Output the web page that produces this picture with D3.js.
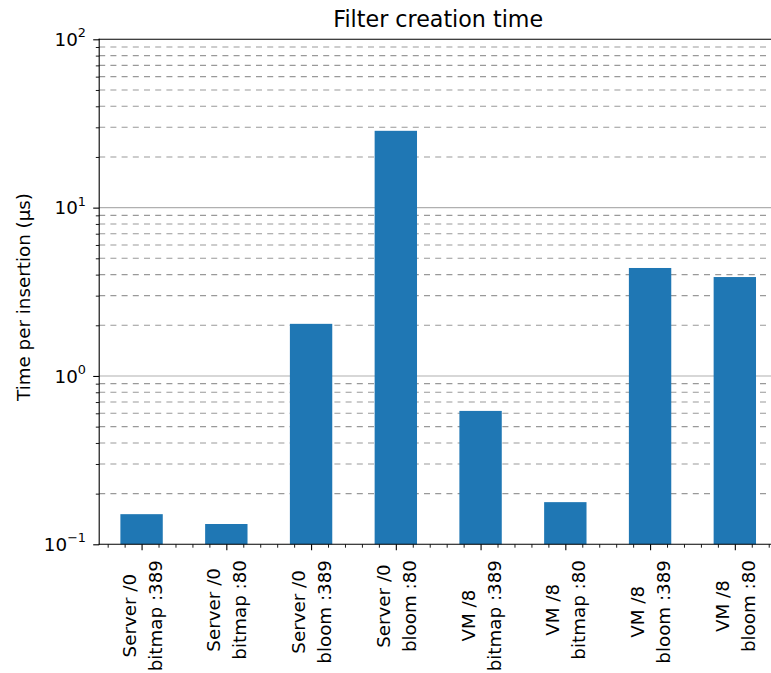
<!DOCTYPE html>
<html>
<head>
<meta charset="utf-8">
<script src="https://cdn.jsdelivr.net/npm/d3@7"></script>
<style>
  html, body { margin: 0; padding: 0; background: #ffffff; }
  svg { display: block; font-family: "DejaVu Sans", sans-serif; }
</style>
</head>
<body>
<svg id="chart" width="771" height="673"></svg>
<script>
// Filter creation time per configuration (µs per insertion)
const hosts   = ["Server /0", "Server /0", "Server /0", "Server /0", "VM /8", "VM /8", "VM /8", "VM /8"];
const filters = ["bitmap :389", "bitmap :80", "bloom :389", "bloom :80", "bitmap :389", "bitmap :80", "bloom :389", "bloom :80"];
const times   = [0.151, 0.132, 2.04, 28.6, 0.62, 0.178, 4.38, 3.87];
const yTickValues = [0.1, 1, 10, 100];
const yTickExponents = ["\u22121", "0", "1", "2"];

const svg = d3.select("#chart");
const plotLeft = 99.2, plotRight = 777.2, plotTop = 39.3, plotBottom = 544.3;
const tickFont = 18.3;

const x = d3.scaleLinear().domain([-0.5, hosts.length - 0.5]).range([plotLeft, plotRight]);
const y = d3.scaleLog().domain([0.1, 100]).range([plotBottom, plotTop]);

// minor gridlines (2..9 of every decade), dashed
const minorVals = [];
for (let e = -1; e < 2; e++) for (let m = 2; m <= 9; m++) minorVals.push(m * Math.pow(10, e));

svg.append("g").selectAll("line").data(minorVals).join("line")
  .attr("x1", plotLeft).attr("x2", plotRight)
  .attr("y1", d => y(d)).attr("y2", d => y(d))
  .attr("stroke", "#999999").attr("stroke-width", 1.1)
  .attr("stroke-dasharray", "6,5.2");

// major gridlines, solid
svg.append("g").selectAll("line").data(yTickValues.slice(1, 3)).join("line")
  .attr("x1", plotLeft).attr("x2", plotRight)
  .attr("y1", d => y(d)).attr("y2", d => y(d))
  .attr("stroke", "#b0b0b0").attr("stroke-width", 1.1);

// bars
const barW = x(0.25) - x(-0.25);
svg.append("g").selectAll("rect").data(times).join("rect")
  .attr("x", (d, i) => x(i) - barW / 2)
  .attr("width", barW)
  .attr("y", d => y(d))
  .attr("height", d => plotBottom - y(d))
  .attr("fill", "#1f77b4");

// y axis with log ticks
const yAxis = d3.axisLeft(y).tickValues(yTickValues).tickSize(6).tickFormat(() => "");
const gy = svg.append("g").attr("transform", `translate(${plotLeft},0)`).call(yAxis);
gy.select(".domain").remove();
gy.selectAll(".tick line").attr("stroke", "#000").attr("stroke-width", 1.1);

const yMinor = d3.axisLeft(y).tickValues(minorVals).tickSize(3.4).tickFormat(() => "");
const gym = svg.append("g").attr("transform", `translate(${plotLeft},0)`).call(yMinor);
gym.select(".domain").remove();
gym.selectAll(".tick line").attr("stroke", "#000").attr("stroke-width", 0.9);

// y tick labels as 10 with superscript exponent
const yl = svg.append("g");
yTickValues.forEach((v, i) => {
  const t = yl.append("text")
    .attr("x", 86).attr("y", y(v) + 6.6)
    .attr("text-anchor", "end")
    .attr("font-size", tickFont).attr("fill", "#000");
  t.append("tspan").text("10");
  t.append("tspan").attr("font-size", 12.8).attr("dy", -8.5).text(yTickExponents[i]);
});

// x axis: major ticks at bar centres, minor ticks every fifth
const idx = d3.range(hosts.length);
const xAxis = d3.axisBottom(x).tickValues(idx).tickSize(6).tickFormat(() => "");
const gx = svg.append("g").attr("transform", `translate(0,${plotBottom})`).call(xAxis);
gx.select(".domain").remove();
gx.selectAll(".tick line").attr("stroke", "#000").attr("stroke-width", 1.1);

const xMinorVals = d3.range(-2, hosts.length * 5 - 2).map(k => k / 5).filter(v => Math.abs(v - Math.round(v)) > 1e-6);
const xMinor = d3.axisBottom(x).tickValues(xMinorVals).tickSize(3.4).tickFormat(() => "");
const gxm = svg.append("g").attr("transform", `translate(0,${plotBottom})`).call(xMinor);
gxm.select(".domain").remove();
gxm.selectAll(".tick line").attr("stroke", "#000").attr("stroke-width", 0.9);

// two-line rotated category labels, lines centred on each other, block hanging below the axis
const labelTop = 560;
idx.forEach(i => {
  const lines = [hosts[i], filters[i]];
  const g = svg.append("g");
  const texts = lines.map((s, k) => g.append("text")
    .attr("font-size", tickFont).attr("fill", "#000")
    .attr("text-anchor", "middle").text(s));
  const maxLen = d3.max(texts, t => t.node().getComputedTextLength());
  const cy = labelTop + maxLen / 2;
  texts.forEach((t, k) => {
    const bx = x(i) - 6 + k * 26;
    t.attr("transform", `translate(${bx},${cy}) rotate(-90)`);
  });
});

// spines: left, bottom, top
svg.append("line").attr("x1", plotLeft).attr("x2", plotLeft).attr("y1", plotTop).attr("y2", plotBottom)
  .attr("stroke", "#000").attr("stroke-width", 1.1).attr("stroke-linecap", "square");
svg.append("line").attr("x1", plotLeft).attr("x2", plotRight).attr("y1", plotBottom).attr("y2", plotBottom)
  .attr("stroke", "#000").attr("stroke-width", 1.1).attr("stroke-linecap", "square");
svg.append("line").attr("x1", plotLeft).attr("x2", plotRight).attr("y1", plotTop).attr("y2", plotTop)
  .attr("stroke", "#000").attr("stroke-width", 1.1).attr("stroke-linecap", "square");

// axis title and chart title
svg.append("text")
  .attr("transform", `translate(29.5,297) rotate(-90)`)
  .attr("text-anchor", "middle").attr("font-size", tickFont).attr("fill", "#000")
  .text("Time per insertion (\u00b5s)");

svg.append("text")
  .attr("x", (plotLeft + plotRight) / 2).attr("y", 27)
  .attr("text-anchor", "middle").attr("font-size", 22.2).attr("fill", "#000")
  .text("Filter creation time");
</script>
</body>
</html>
